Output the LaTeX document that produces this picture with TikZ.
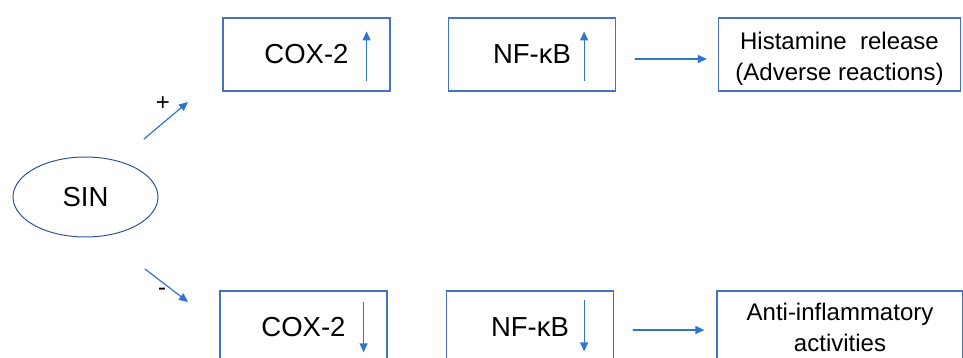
\documentclass[tikz,border=0pt]{standalone}
\usepackage{fontspec}
\setmainfont{Liberation Sans}
\usetikzlibrary{shapes.geometric,arrows.meta}
\definecolor{boxblue}{RGB}{68,114,196}
\definecolor{arrblue}{RGB}{46,117,208}
\definecolor{ellblue}{RGB}{47,85,151}

\begin{document}
\begin{tikzpicture}[x=1pt,y=-1pt,line cap=round]
	\tikzstyle{box}=[draw=boxblue,line width=1.2pt,minimum width=167pt,minimum height=73pt,inner sep=0pt,font=\fontsize{27.5}{30}\selectfont];
	\tikzstyle{wide}=[box,minimum width=242pt,align=center,font=\fontsize{24}{31}\selectfont];
	\tikzstyle{conn}=[arrblue,line width=1.2pt,-{Triangle[length=9pt,width=8pt]}];
	\useasboundingbox (0,0) rectangle (963,358);
	\clip (0,0) rectangle (963,358);
	%% SIN
	\node[ellipse,draw=ellblue,line width=1pt,minimum width=145pt,minimum height=80pt,inner sep=0pt,
		font=\fontsize{27.5}{30}\selectfont] (sin) at (85.5,197) {SIN};
	%% Upper row
	\node[box] (coxup) at (306.5,54.5) {COX-2};
	\node[box] (nfup)  at (532,54.5)   {NF-\char"03BA B};
	\node[wide] (hist) at (839.5,54.5) {\rule{0pt}{25pt}Histamine\ \ release\\(Adverse reactions)};
	%% Lower row
	\node[box] (coxdn) at (303.5,327.5) {COX-2};
	\node[box] (nfdn)  at (530,327.5)   {NF-\char"03BA B};
	\node[wide,minimum width=246pt] (anti) at (840,327.5) {Anti-inflammatory\\activities};
	%% Branches
	\coordinate (upA) at (144,139);
	\coordinate (upB) at (188,102);
	\coordinate (dnA) at (145,269);
	\coordinate (dnB) at (188,302);
	\draw[conn] (upA) -- (upB);
	\draw[conn] (dnA) -- (dnB);
	\node[font=\fontsize{24}{26}\selectfont] (plus)  at (163,104) {+};
	\node[font=\fontsize{24}{26}\selectfont] (minus) at (162,292) {-};
	%% Up / down marks
	\draw[conn] ([xshift=-24pt,yshift=11pt]coxup.south east) -- ([xshift=-24pt,yshift=-14pt]coxup.north east);
	\draw[conn] ([xshift=-32pt,yshift=11pt]nfup.south east)  -- ([xshift=-32pt,yshift=-14pt]nfup.north east);
	\draw[conn] ([xshift=-24pt,yshift=-12pt]coxdn.north east) -- ([xshift=-24pt,yshift=-62pt]coxdn.north east);
	\draw[conn] ([xshift=-30pt,yshift=-10pt]nfdn.north east)  -- ([xshift=-30pt,yshift=-61pt]nfdn.north east);
	%% To outcomes
	\draw[conn,shorten <=19pt,shorten >=11pt] ([yshift=-4.5pt]nfup.east) -- ([yshift=-4.5pt]hist.west);
	\draw[conn,shorten <=19pt,shorten >=12pt] ([yshift=-2.5pt]nfdn.east) -- ([yshift=-2.5pt]anti.west);
\end{tikzpicture}
\end{document}
